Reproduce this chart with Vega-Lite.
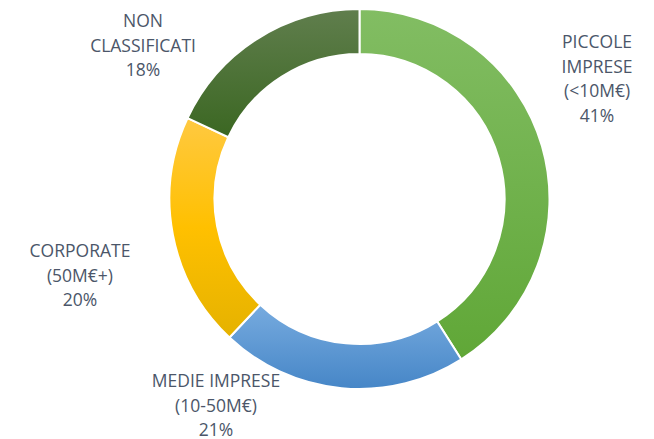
{
  "$schema": "https://vega.github.io/schema/vega-lite/v6.json",
  "autosize": "none",
  "width": 589,
  "height": 398,
  "padding": {"left": 65, "top": 0, "right": 0, "bottom": 41},
  "background": "white",
  "config": {"view": {"stroke": null}},
  "data": {"values": [
    {"cat": "Piccole", "label": "PICCOLE\nIMPRESE\n(<10M€)\n41%", "value": 41, "order": 1},
    {"cat": "Medie", "label": "MEDIE IMPRESE\n(10-50M€)\n21%", "value": 21, "order": 2},
    {"cat": "Corporate", "label": "CORPORATE\n(50M€+)\n20%", "value": 20, "order": 3},
    {"cat": "Non", "label": "NON\nCLASSIFICATI\n18%", "value": 18, "order": 4}
  ]},
  "transform": [
    {"stack": "value", "groupby": [], "sort": [{"field": "order", "order": "ascending"}], "as": ["v0", "v1"]}
  ],
  "layer": [
    {
      "transform": [{"filter": "datum.cat === 'Piccole'"}],
      "mark": {"type": "arc", "radius": 190, "radius2": 145, "stroke": "white", "strokeWidth": 2,
        "fill": {"gradient": "linear", "x1": 0, "y1": 0, "x2": 0, "y2": 1, "stops": [{"offset": 0, "color": "#82bd63"}, {"offset": 1, "color": "#60a737"}]}},
      "encoding": {
        "theta": {"field": "v0", "type": "quantitative", "scale": {"domain": [0, 100]}},
        "theta2": {"field": "v1"}
      }
    },
    {
      "transform": [{"filter": "datum.cat === 'Medie'"}],
      "mark": {"type": "arc", "radius": 190, "radius2": 145, "stroke": "white", "strokeWidth": 2,
        "fill": {"gradient": "linear", "x1": 0, "y1": 0, "x2": 0, "y2": 1, "stops": [{"offset": 0, "color": "#77abdf"}, {"offset": 1, "color": "#4686c7"}]}},
      "encoding": {
        "theta": {"field": "v0", "type": "quantitative", "scale": {"domain": [0, 100]}},
        "theta2": {"field": "v1"}
      }
    },
    {
      "transform": [{"filter": "datum.cat === 'Corporate'"}],
      "mark": {"type": "arc", "radius": 190, "radius2": 145, "stroke": "white", "strokeWidth": 2,
        "fill": {"gradient": "linear", "x1": 0, "y1": 0, "x2": 0, "y2": 1, "stops": [{"offset": 0, "color": "#ffc941"}, {"offset": 0.5, "color": "#ffc000"}, {"offset": 1, "color": "#e5b200"}]}},
      "encoding": {
        "theta": {"field": "v0", "type": "quantitative", "scale": {"domain": [0, 100]}},
        "theta2": {"field": "v1"}
      }
    },
    {
      "transform": [{"filter": "datum.cat === 'Non'"}],
      "mark": {"type": "arc", "radius": 190, "radius2": 145, "stroke": "white", "strokeWidth": 2,
        "fill": {"gradient": "linear", "x1": 0, "y1": 0, "x2": 0, "y2": 1, "stops": [{"offset": 0, "color": "#607e4d"}, {"offset": 1, "color": "#3b6722"}]}},
      "encoding": {
        "theta": {"field": "v0", "type": "quantitative", "scale": {"domain": [0, 100]}},
        "theta2": {"field": "v1"}
      }
    },
    {
      "transform": [{"filter": "datum.cat === 'Piccole'"}],
      "mark": {"type": "text", "radius": 284.2, "thetaOffset": 0.9896, "font": "Open Sans", "fontSize": 17.5, "lineHeight": 24.6, "lineBreak": "\n", "align": "center", "baseline": "middle", "fill": "#4b5669"},
      "encoding": {
        "theta": {"field": "v0", "type": "quantitative", "scale": {"domain": [0, 100]}},
        "text": {"field": "label", "type": "nominal"}
      }
    },
    {
      "transform": [{"filter": "datum.cat === 'Medie'"}],
      "mark": {"type": "text", "radius": 232.6, "thetaOffset": 1.2305, "font": "Open Sans", "fontSize": 17.5, "lineHeight": 24.6, "lineBreak": "\n", "align": "center", "baseline": "middle", "fill": "#4b5669"},
      "encoding": {
        "theta": {"field": "v0", "type": "quantitative", "scale": {"domain": [0, 100]}},
        "text": {"field": "label", "type": "nominal"}
      }
    },
    {
      "transform": [{"filter": "datum.cat === 'Corporate'"}],
      "mark": {"type": "text", "radius": 284.5, "thetaOffset": 0.6294, "font": "Open Sans", "fontSize": 17.5, "lineHeight": 24.6, "lineBreak": "\n", "align": "center", "baseline": "middle", "fill": "#4b5669"},
      "encoding": {
        "theta": {"field": "v0", "type": "quantitative", "scale": {"domain": [0, 100]}},
        "text": {"field": "label", "type": "nominal"}
      }
    },
    {
      "transform": [{"filter": "datum.cat === 'Non'"}],
      "mark": {"type": "text", "radius": 279.6, "thetaOffset": 0.2456, "font": "Open Sans", "fontSize": 17.5, "lineHeight": 24.6, "lineBreak": "\n", "align": "center", "baseline": "middle", "fill": "#4b5669"},
      "encoding": {
        "theta": {"field": "v0", "type": "quantitative", "scale": {"domain": [0, 100]}},
        "text": {"field": "label", "type": "nominal"}
      }
    }
  ]
}
